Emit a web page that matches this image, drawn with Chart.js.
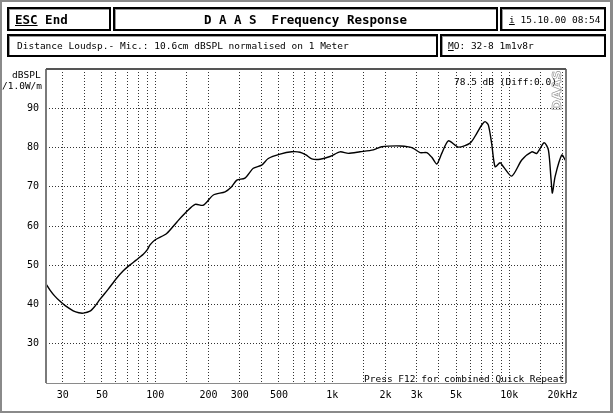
<!DOCTYPE html>
<html>
<head>
    <title>DAAS Frequency Response</title>
    <script src="https://cdn.jsdelivr.net/npm/chart.js"></script>
    <style>
        html, body { margin: 0; padding: 0; }
        body { width: 613px; height: 413px; position: relative; overflow: hidden; background: #fff;
               font-family: "DejaVu Sans Mono", "Liberation Mono", monospace; color: #000; }
        .frame { position: absolute; left: 0; top: 0; width: 613px; height: 413px; box-sizing: border-box;
                 border: 2px solid #8a8a8a; border-right-width: 3px; pointer-events: none; }
        #chartBox { position: absolute; left: 0; top: 0; width: 613px; height: 413px; }
        .box { position: absolute; box-sizing: border-box; border: 2px solid #000;
               box-shadow: inset 1px 1px 0 #9a9a9a; display: flex; align-items: center;
               font-size: 9.5px; white-space: pre; }
        .bold { font-weight: bold; font-size: 12.5px; }
        .txt { position: absolute; font-size: 9.5px; white-space: pre; }
        .daas { position: absolute; left: 536px; top: 83px; font-family: "DejaVu Sans", sans-serif;
                font-weight: bold; font-size: 13px; letter-spacing: 0px; color: transparent;
                -webkit-text-stroke: 0.6px #8a8a8a; transform: rotate(-90deg); }
    </style>
</head>
<body>
    <div id="chartBox"><canvas id="freqChart" width="613" height="413"></canvas></div>

    <div class="box bold" style="left:7px; top:7px; width:104px; height:24px; padding-left:6px;"><u>ESC</u> End</div>
    <div class="box bold" style="left:113px; top:7px; width:385px; height:24px; justify-content:center;">D A A S  Frequency Response</div>
    <div class="box" style="left:500px; top:7px; width:106px; height:24px; padding-left:7px;"><u>i</u> 15.10.00 08:54</div>
    <div class="box" style="left:7px; top:34px; width:431px; height:23px; padding-left:8px;">Distance Loudsp.- Mic.: 10.6cm dBSPL normalised on 1 Meter</div>
    <div class="box" style="left:440px; top:34px; width:166px; height:23px; padding-left:6px;"><u>M</u>O: 32-8 1m1v8r</div>

    <div class="txt" style="left:12px; top:69px;">dBSPL</div>
    <div class="txt" style="left:2px; top:80px;">/1.0W/m</div>
    <div class="txt" style="left:454px; top:76px;">78.5 dB (Diff:0.0)</div>
    <div class="txt" style="left:364px; top:373px;">Press F12 for combined Quick Repeat</div>
    <div class="daas">DAAS</div>

    <div class="frame"></div>

    <script>
        const freqs = [24.2, 25.5, 27, 29, 31, 34.4, 37, 39.2, 42.8, 45.5, 48.7, 54, 60.5, 66, 72, 78, 85.6, 90, 93.4, 100,
                       116, 133, 150, 168, 187, 213, 248, 270, 289, 321, 358, 399, 435, 507, 590, 657, 710, 766, 853, 971,
                       1106, 1232, 1435, 1706, 1903, 2414, 2750, 2871, 3133, 3418, 3650, 3892, 4153, 4526, 5154, 6000,
                       6549, 7000, 7296, 7615, 7950, 8310, 8868, 9259, 10325, 11757, 13389, 14292, 15720, 16620, 17200,
                       17509, 18136, 19788, 20700];
        const levels = [45.2, 43.6, 42.2, 40.8, 39.7, 38.4, 37.9, 37.8, 38.3, 39.5, 41.3, 43.8, 46.7, 48.6, 50.1, 51.3, 52.8, 53.9, 55.2, 56.5,
                        58.1, 61.1, 63.6, 65.5, 65.3, 67.9, 68.7, 70.0, 71.7, 72.2, 74.7, 75.5, 77.2, 78.3, 78.9, 78.8, 78.1, 77.1, 77.0, 77.7,
                        78.9, 78.5, 78.9, 79.4, 80.2, 80.4, 80.1, 79.8, 78.7, 78.7, 77.5, 75.8, 78.5, 81.7, 80.1, 81.1,
                        83.6, 85.8, 86.6, 85.7, 81.0, 75.1, 76.1, 75.1, 72.7, 76.8, 78.9, 78.5, 81.2, 79.4, 72.0,
                        68.4, 72.6, 78.1, 76.8];

        // axis grid / tick labels
        const xGrid = [30, 40, 50, 60, 70, 80, 90, 100, 150, 200, 300, 400, 500, 600, 700, 800, 900,
                       1000, 1500, 2000, 3000, 4000, 5000, 6000, 7000, 8000, 9000, 10000, 15000, 20000];
        const xLabels = { 30: '30', 50: '50', 100: '100', 200: '200', 300: '300', 500: '500', 1000: '1k',
                          2000: '2k', 3000: '3k', 5000: '5k', 10000: '10k', 20000: '20kHz' };
        const yGrid = [20, 30, 40, 50, 60, 70, 80, 90, 100];
        const yLabels = [30, 40, 50, 60, 70, 80, 90];

        const tickFont = { family: '"DejaVu Sans Mono", monospace', size: 10 };

        // plot frame: grey left/right, dark top, grey bottom
        const framePlugin = {
            id: 'frame',
            afterDraw(chart) {
                const { ctx, chartArea: a } = chart;
                ctx.save();
                ctx.lineWidth = 2;
                ctx.strokeStyle = '#7a7a7a';
                ctx.beginPath();
                ctx.moveTo(a.left, a.top); ctx.lineTo(a.left, a.bottom);
                ctx.moveTo(a.right, a.top); ctx.lineTo(a.right, a.bottom);
                ctx.stroke();
                ctx.strokeStyle = '#555';
                ctx.beginPath();
                ctx.moveTo(a.left, a.top); ctx.lineTo(a.right, a.top);
                ctx.stroke();
                ctx.lineWidth = 1;
                ctx.strokeStyle = '#8a8a8a';
                ctx.beginPath();
                ctx.moveTo(a.left, a.bottom + 0.5); ctx.lineTo(a.right, a.bottom + 0.5);
                ctx.stroke();
                ctx.restore();
            }
        };

        const ctx = document.getElementById('freqChart').getContext('2d');
        new Chart(ctx, {
            type: 'line',
            data: {
                datasets: [{
                    data: freqs.map((f, i) => ({ x: f, y: levels[i] })),
                    borderColor: '#000',
                    borderWidth: 1.4,
                    pointRadius: 0,
                    tension: 0.25,
                    fill: false
                }]
            },
            options: {
                responsive: false,
                animation: false,
                layout: { padding: { top: 69, right: 47, left: 0, bottom: 0 } },
                plugins: { legend: { display: false }, tooltip: { enabled: false } },
                scales: {
                    x: {
                        type: 'logarithmic',
                        min: 24.15,
                        max: 20900,
                        afterBuildTicks: s => { s.ticks = xGrid.map(v => ({ value: v })); },
                        afterFit: s => { s.height = 30; },
                        ticks: {
                            autoSkip: false, maxRotation: 0, minRotation: 0,
                            callback: v => xLabels[v] || '',
                            font: tickFont, color: '#000', padding: 6
                        },
                        grid: { color: '#333', lineWidth: 1, drawTicks: false },
                        border: { display: false, dash: [1, 2] }
                    },
                    y: {
                        type: 'linear',
                        min: 20,
                        max: 100,
                        afterBuildTicks: s => { s.ticks = yGrid.map(v => ({ value: v })); },
                        afterFit: s => { s.width = 46; },
                        ticks: {
                            callback: v => yLabels.includes(v) ? String(v) : '',
                            font: tickFont, color: '#000', padding: 7
                        },
                        grid: { color: '#333', lineWidth: 1, drawTicks: false },
                        border: { display: false, dash: [1, 2] }
                    }
                }
            },
            plugins: [framePlugin]
        });
    </script>
</body>
</html>
